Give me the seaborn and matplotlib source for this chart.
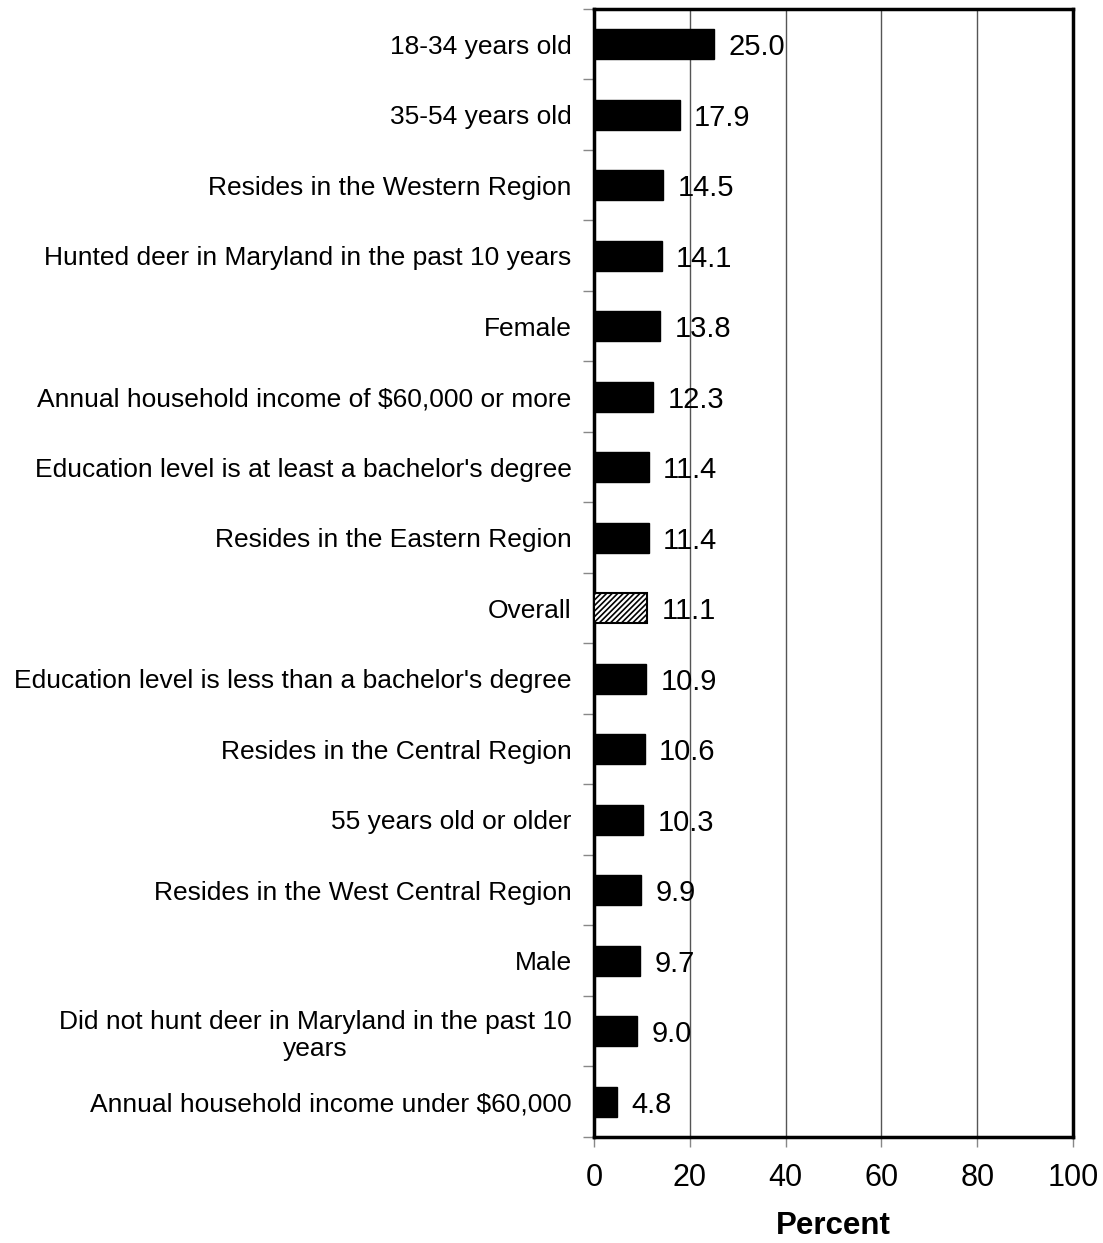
import matplotlib
matplotlib.use("Agg")
import matplotlib.pyplot as plt
import seaborn as sns
import pandas as pd
import numpy as np

categories = [
    "18-34 years old",
    "35-54 years old",
    "Resides in the Western Region",
    "Hunted deer in Maryland in the past 10 years",
    "Female",
    "Annual household income of $60,000 or more",
    "Education level is at least a bachelor's degree",
    "Resides in the Eastern Region",
    "Overall",
    "Education level is less than a bachelor's degree",
    "Resides in the Central Region",
    "55 years old or older",
    "Resides in the West Central Region",
    "Male",
    "Did not hunt deer in Maryland in the past 10\nyears",
    "Annual household income under $60,000",
]
values = [25.0, 17.9, 14.5, 14.1, 13.8, 12.3, 11.4, 11.4, 11.1,
          10.9, 10.6, 10.3, 9.9, 9.7, 9.0, 4.8]
x_ticks = [0, 20, 40, 60, 80, 100]

sns.set_style("white")
plt.rcParams["font.family"] = ["Liberation Sans", "DejaVu Sans"]
plt.rcParams["text.color"] = "black"
plt.rcParams["xtick.labelcolor"] = "black"
plt.rcParams["ytick.labelcolor"] = "black"
plt.rcParams["axes.labelcolor"] = "black"
plt.rcParams["hatch.linewidth"] = 1.2

df = pd.DataFrame({"category": categories, "percent": values})

fig = plt.figure(figsize=(11.03, 12.43), dpi=100)
ax = fig.add_axes([0.5385, 0.0853, 0.4343, 0.9075])

sns.barplot(data=df, x="percent", y="category", orient="h", color="black",
            width=0.43, edgecolor="black", linewidth=1, saturation=1,
            ax=ax, zorder=3)

# Hatched bar for the overall figure
for patch, cat in zip(ax.patches, categories):
    if cat == "Overall":
        patch.set_facecolor("white")
        patch.set_hatch("//////")
        patch.set_edgecolor("black")
        patch.set_linewidth(1.5)

# Value labels
for i, v in enumerate(values):
    ax.text(v + 3.0, i, f"{v:.1f}", va="center_baseline", ha="left",
            fontsize=21, zorder=4)

ax.set_xlim(0, 100)
ax.set_ylim(len(categories) - 0.5, -0.5)
ax.set_xticks(x_ticks)
ax.set_xticklabels([str(t) for t in x_ticks], fontsize=22)
ax.tick_params(axis="x", direction="out", length=7, width=1, color="#888888",
               pad=12, bottom=True)
ax.tick_params(axis="y", which="major", length=0, pad=16, labelsize=19)
ax.set_yticks(np.arange(-0.5, len(categories) + 0.5, 1), minor=True)
ax.tick_params(axis="y", which="minor", direction="out", length=8, width=1,
               color="#888888", left=True)
for lab in ax.get_yticklabels():
    lab.set_multialignment("center")
    lab.set_linespacing(1.15)

ax.grid(axis="x", color="#555555", linewidth=1, zorder=0)
ax.grid(axis="y", visible=False)
for side in ["left", "right", "top", "bottom"]:
    ax.spines[side].set_visible(True)
    ax.spines[side].set_color("black")
    ax.spines[side].set_linewidth(2.5)

ax.set_ylabel("")
ax.set_xlabel("Percent", fontsize=22.5, fontweight="bold", labelpad=13)

fig.savefig("out.png", dpi=100)
